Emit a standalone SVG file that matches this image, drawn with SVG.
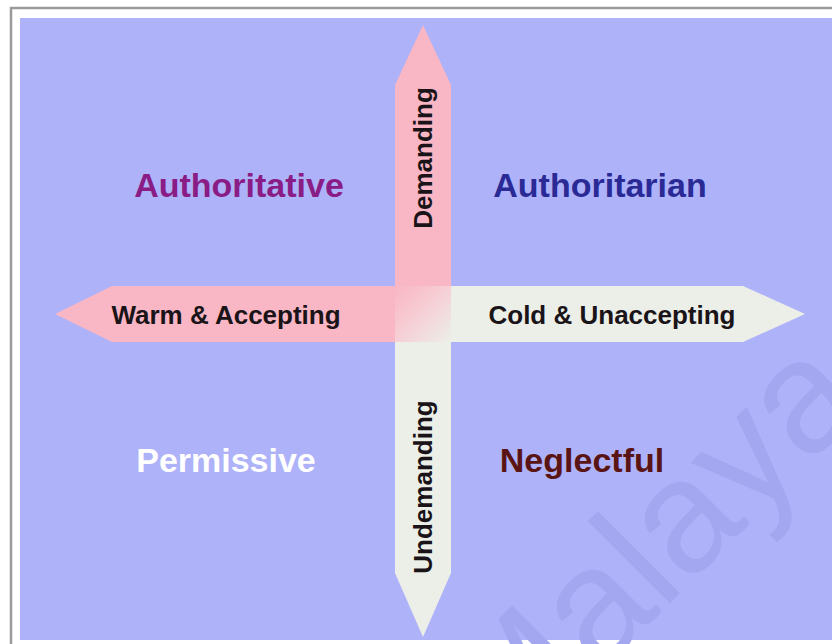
<svg xmlns="http://www.w3.org/2000/svg" width="832" height="644" viewBox="0 0 832 644">
  <defs>
    <linearGradient id="hub" x1="0" y1="0" x2="1" y2="1">
      <stop offset="0" stop-color="#f9b6c4"/>
      <stop offset="0.45" stop-color="#f6cdd4"/>
      <stop offset="1" stop-color="#ecefe8"/>
    </linearGradient>
    <style>
      .q { font-family: "Liberation Sans", Arial, sans-serif; font-weight: bold; font-size: 34px; }
      .lab { font-family: "Liberation Sans", Arial, sans-serif; font-weight: bold; font-size: 26px; fill: #1a1418; }
      .warm { fill: #f9b6c4; }
      .cold { fill: #ecefe8; }
    </style>
  </defs>

  <!-- page and frame -->
  <rect x="0" y="0" width="832" height="644" fill="#ffffff"/>
  <rect x="11" y="8" width="840" height="660" fill="none" stroke="#9a9a9a" stroke-width="2.5"/>
  <rect x="20" y="18" width="812" height="622" fill="#aeb2f8"/>

  <!-- faint watermark -->
  <text x="505" y="768" transform="rotate(-45 505 768)" font-family="Liberation Sans, Arial, sans-serif" font-size="160" fill="#a3a7f0">Malaya</text>

  <!-- axes -->
  <g id="connectors">
    <g id="axis-demanding">
      <polygon class="warm" points="423,25 451,85 451,286 395,286 395,85"/>
      <text class="lab" transform="translate(432,158) rotate(-90)" text-anchor="middle">Demanding</text>
    </g>
    <g id="axis-undemanding">
      <polygon class="cold" points="395,342 451,342 451,573 423,637 395,573"/>
      <text class="lab" transform="translate(432,487) rotate(-90)" text-anchor="middle">Undemanding</text>
    </g>
    <g id="axis-warm">
      <polygon class="warm" points="55,314 112,286 395,286 395,342 112,342"/>
      <text class="lab" x="226" y="324" text-anchor="middle">Warm &amp; Accepting</text>
    </g>
    <g id="axis-cold">
      <polygon class="cold" points="451,286 743,286 805,314 743,342 451,342"/>
      <text class="lab" x="612" y="324" text-anchor="middle">Cold &amp; Unaccepting</text>
    </g>
    <rect id="axis-hub" x="395" y="286" width="56" height="56" fill="url(#hub)"/>
  </g>

  <!-- quadrant styles -->
  <g id="authoritative"><text class="q" x="239" y="197" text-anchor="middle" fill="#8a1c86">Authoritative</text></g>
  <g id="authoritarian"><text class="q" x="600" y="197" text-anchor="middle" fill="#2a2a96">Authoritarian</text></g>
  <g id="permissive"><text class="q" x="226" y="472" text-anchor="middle" fill="#ffffff">Permissive</text></g>
  <g id="neglectful"><text class="q" x="582" y="472" text-anchor="middle" fill="#5a1414">Neglectful</text></g>
</svg>
